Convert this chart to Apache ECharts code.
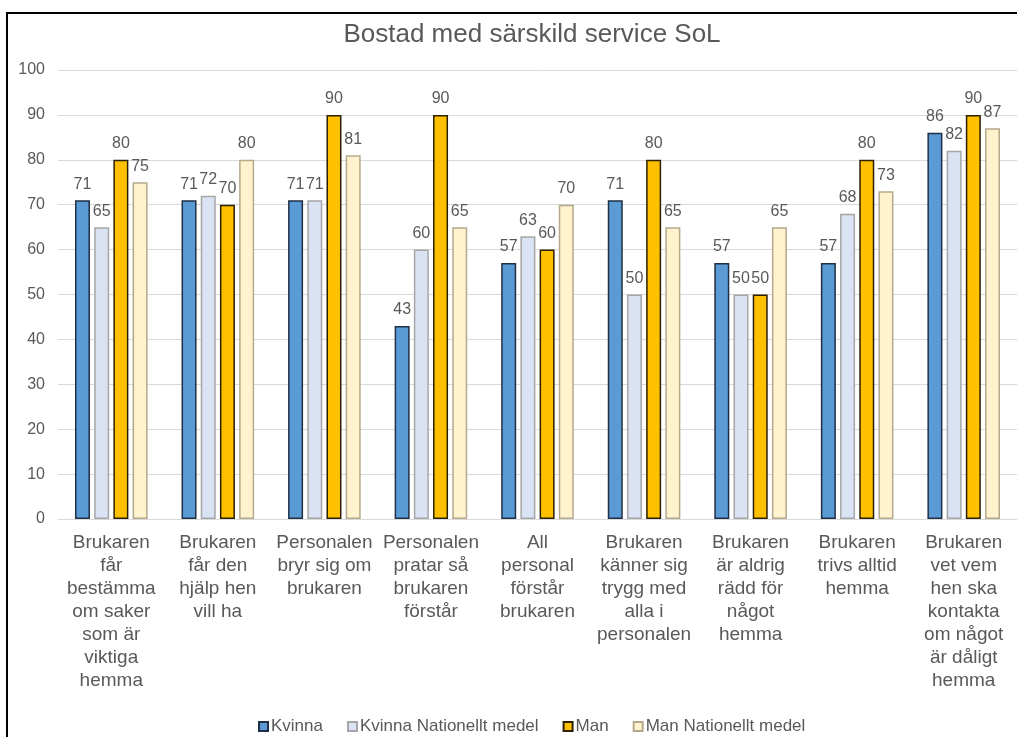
<!DOCTYPE html>
<html>
<head>
<meta charset="utf-8">
<script src="https://cdn.jsdelivr.net/npm/echarts@6/dist/echarts.min.js"></script>
<style>
  html, body { margin: 0; padding: 0; background: #fff; }
  #chart { width: 1017px; height: 737px; }
</style>
</head>
<body>
<div id="chart"></div>
<script>
var categories = [
    "Brukaren\nfår\nbestämma\nom saker\nsom är\nviktiga\nhemma",
    "Brukaren\nfår den\nhjälp hen\nvill ha",
    "Personalen\nbryr sig om\nbrukaren",
    "Personalen\npratar så\nbrukaren\nförstår",
    "All\npersonal\nförstår\nbrukaren",
    "Brukaren\nkänner sig\ntrygg med\nalla i\npersonalen",
    "Brukaren\när aldrig\nrädd för\nnågot\nhemma",
    "Brukaren\ntrivs alltid\nhemma",
    "Brukaren\nvet vem\nhen ska\nkontakta\nom något\när dåligt\nhemma"
];
var kvinna = [71, 71, 71, 43, 57, 71, 57, 57, 86];
var kvinnaMedel = [65, 72, 71, 60, 63, 50, 50, 68, 82];
var man = [80, 70, 90, 90, 60, 80, 50, 80, 90];
var manMedel = [75, 80, 81, 65, 70, 65, 65, 73, 87];

var font = "Liberation Sans";
var grey = "#595959";

function bar(name, data, color, border) {
    return {
        name: name,
        type: 'bar',
        data: data,
        barWidth: 15,
        barGap: '28%',
        itemStyle: { color: color, borderColor: border, borderWidth: 1.5 },
        label: {
            show: true,
            position: 'top',
            distance: 8,
            color: grey,
            fontFamily: font,
            fontSize: 16
        }
    };
}

var myChart = echarts.init(document.getElementById('chart'), null, { renderer: 'canvas' });
var option = {
    animation: false,
    title: {
        text: 'Bostad med särskild service SoL',
        left: 527,
        top: 17,
        textAlign: 'center',
        textStyle: { color: grey, fontFamily: font, fontSize: 26, fontWeight: 'normal' }
    },
    graphic: [{
        type: 'rect',
        shape: { x: 7, y: 13, width: 1100, height: 800 },
        style: { fill: 'none', stroke: '#000', lineWidth: 2 },
        silent: true
    }],
    legend: {
        top: 713,
        left: 253,
        icon: 'rect',
        itemWidth: 9,
        itemHeight: 9,
        itemGap: 24,
        textStyle: { color: grey, fontFamily: font, fontSize: 17, padding: [0, 0, 0, -2] },
        data: ['Kvinna', 'Kvinna Nationellt medel', 'Man', 'Man Nationellt medel']
    },
    grid: { left: 58, top: 70, width: 963, height: 449, containLabel: false },
    xAxis: {
        type: 'category',
        data: categories,
        axisLine: { lineStyle: { color: '#d9d9d9' } },
        axisTick: { show: false },
        axisLabel: {
            interval: 0,
            color: grey,
            fontFamily: font,
            fontSize: 19,
            lineHeight: 23,
            margin: 12
        }
    },
    yAxis: {
        type: 'value',
        min: 0,
        max: 100,
        interval: 10,
        axisLine: { show: false },
        axisTick: { show: false },
        splitLine: { lineStyle: { color: '#d9d9d9' } },
        axisLabel: { color: grey, fontFamily: font, fontSize: 16, margin: 13 }
    },
    series: [
        bar('Kvinna', kvinna, '#5B9BD5', '#1f2f45'),
        bar('Kvinna Nationellt medel', kvinnaMedel, '#DAE3F3', '#a6a6a6'),
        bar('Man', man, '#FFC000', '#2b2000'),
        bar('Man Nationellt medel', manMedel, '#FFF2CC', '#b4a98c')
    ]
};
myChart.setOption(option);
</script>
</body>
</html>
